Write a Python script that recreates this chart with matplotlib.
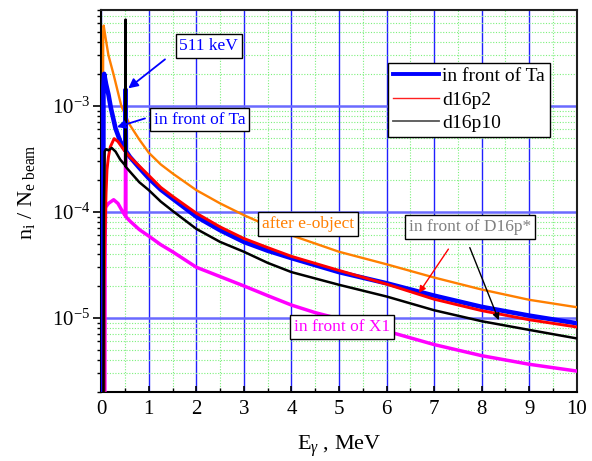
import matplotlib
matplotlib.use("Agg")
import matplotlib.pyplot as plt
from matplotlib.lines import Line2D
from matplotlib.ticker import LogLocator, MultipleLocator, NullFormatter, FixedLocator, FixedFormatter

plt.rcParams['font.family'] = ['Liberation Serif', 'DejaVu Serif']
plt.rcParams['mathtext.fontset'] = 'custom'
plt.rcParams['mathtext.rm'] = 'Liberation Serif'
plt.rcParams['mathtext.it'] = 'Liberation Serif:italic'

# ---------------- data ----------------
e_orange = [0.01, 0.04, 0.05, 0.1, 0.15, 0.26, 0.42, 0.6, 0.8, 1.0, 1.25, 1.5, 2, 2.5, 3, 3.5, 4, 5, 6, 7, 8, 9, 10]
y_orange = [1e-7, 5.0e-3, 5.7e-3, 4.1e-3, 3.0e-3, 1.96e-3, 1.0e-3, 6.6e-4, 4.8e-4, 3.6e-4, 2.8e-4, 2.3e-4,
            1.6e-4, 1.2e-4, 9.3e-5, 7.4e-5, 6.0e-5, 4.2e-5, 3.2e-5, 2.4e-5, 1.85e-5, 1.48e-5, 1.26e-5]

e_blue = [0.035, 0.045, 0.06, 0.1, 0.15, 0.2, 0.3, 0.4, 0.5, 0.505, 0.511, 0.517, 0.6, 0.8, 1.0, 1.25, 1.5,
          2, 2.5, 3, 3.5, 4, 5, 6, 7, 8, 9, 10]
y_blue = [1e-7, 1.5e-3, 2.0e-3, 1.6e-3, 1.28e-3, 9.6e-4, 6.1e-4, 4.6e-4, 3.85e-4, 3.8e-4, 1.42e-3, 3.75e-4,
          3.3e-4, 2.6e-4, 2.07e-4, 1.62e-4, 1.33e-4, 9.0e-5, 6.7e-5, 5.2e-5, 4.3e-5, 3.66e-5, 2.7e-5,
          2.12e-5, 1.62e-5, 1.27e-5, 1.05e-5, 8.9e-6]

e_red = [0.05, 0.06, 0.08, 0.1, 0.12, 0.15, 0.19, 0.27, 0.35, 0.5, 0.6, 0.8, 1.0, 1.25, 1.5, 2, 2.5, 3, 3.5,
         4, 5, 6, 7, 8, 9, 10]
y_red = [1e-7, 2e-5, 6.8e-5, 1.5e-4, 2.5e-4, 3.3e-4, 4.1e-4, 4.9e-4, 4.6e-4, 3.7e-4, 3.3e-4, 2.7e-4, 2.2e-4,
         1.7e-4, 1.4e-4, 9.7e-5, 7.2e-5, 5.6e-5, 4.6e-5, 3.8e-5, 2.8e-5, 2.08e-5, 1.5e-5, 1.17e-5, 9.6e-6, 8.2e-6]

e_black = [0.04, 0.055, 0.07, 0.1, 0.15, 0.22, 0.3, 0.4, 0.5, 0.505, 0.511, 0.517, 0.6, 0.8, 1.0, 1.25, 1.5,
           2, 2.5, 3, 3.5, 4, 5, 6, 7, 8, 9, 10]
y_black = [1e-7, 1.0e-4, 3.7e-4, 3.9e-4, 3.8e-4, 4.0e-4, 3.7e-4, 3.1e-4, 2.75e-4, 2.7e-4, 6.5e-3, 2.65e-4,
           2.4e-4, 1.9e-4, 1.6e-4, 1.25e-4, 1.02e-4, 6.9e-5, 5.2e-5, 4.2e-5, 3.3e-5, 2.7e-5, 2.05e-5,
           1.59e-5, 1.18e-5, 9.3e-6, 7.7e-6, 6.4e-6]

e_mag = [0.07, 0.08, 0.09, 0.15, 0.26, 0.35, 0.45, 0.505, 0.511, 0.517, 0.6, 0.8, 1.0, 1.25, 1.5, 2, 2.5, 3,
         3.5, 4, 4.5, 5, 6, 7, 8, 9, 10]
y_mag = [1e-7, 5e-5, 1.1e-4, 1.2e-4, 1.3e-4, 1.2e-4, 1.0e-4, 9.2e-5, 3.6e-4, 9.0e-5, 8.2e-5, 6.8e-5, 5.9e-5,
         4.9e-5, 4.2e-5, 3.0e-5, 2.45e-5, 2.0e-5, 1.62e-5, 1.32e-5, 1.12e-5, 9.8e-6, 7.5e-6, 5.6e-6,
         4.4e-6, 3.65e-6, 3.15e-6]

legend_labels = ["in front of Ta", "d16p2", "d16p10"]
x_ticks = list(range(0, 11))
y_ticks = [1e-5, 1e-4, 1e-3]
y_tick_labels = [r"$\mathregular{10^{-5}}$", r"$\mathregular{10^{-4}}$", r"$\mathregular{10^{-3}}$"]

# ---------------- figure ----------------
fig = plt.figure(figsize=(5.92, 4.61), dpi=100)
ax = fig.add_axes([0.1711, 0.1497, 0.8032, 0.8286])

ax.set_xscale('linear')
ax.set_yscale('log')
ax.set_xlim(0, 10)
ax.set_ylim(2e-6, 8e-3)

# grid
ax.set_axisbelow(True)
ax.xaxis.set_minor_locator(MultipleLocator(0.5))
ax.yaxis.set_minor_locator(LogLocator(base=10, subs=range(2, 10)))
ax.yaxis.set_minor_formatter(NullFormatter())
ax.grid(which='minor', color='#7cf07c', linestyle=(0, (1, 1.5)), linewidth=0.8)
ax.xaxis.grid(True, which='major', color='#2020ff', linewidth=1.0)
ax.yaxis.grid(True, which='major', color='#6a6aff', linewidth=1.8)

ax.plot(e_orange, y_orange, color='#ff7f00', lw=1.7, zorder=3)
ax.plot(e_mag, y_mag, color='#ff00ff', lw=2.5, zorder=3)
ax.plot(e_blue, y_blue, color='#0000ff', lw=3.3, zorder=4)
ax.plot(e_red, y_red, color='#ff0000', lw=2.1, zorder=5)
ax.plot(e_black, y_black, color='#000000', lw=1.8, zorder=6)

# ticks
ax.xaxis.set_major_locator(FixedLocator(x_ticks))
ax.yaxis.set_major_locator(FixedLocator(y_ticks))
ax.yaxis.set_major_formatter(FixedFormatter(y_tick_labels))
ax.tick_params(axis='x', which='major', direction='in', length=4, width=1.2, labelsize=15, pad=6)
ax.tick_params(axis='x', which='minor', direction='in', length=3, width=1.0)
ax.tick_params(axis='y', which='major', direction='out', length=6, width=1.2, labelsize=15, pad=2)
ax.tick_params(axis='y', which='minor', direction='out', length=3, width=1.0)
for s in ax.spines.values():
    s.set_linewidth(1.5)
    s.set_color('#202020')
ax.spines['left'].set_color('black')
ax.spines['bottom'].set_color('black')

ax.set_xlabel(r"E$_\gamma$ , MeV", fontsize=16, labelpad=10)
ax.set_ylabel(r"n$_\mathregular{i}$ / N$_\mathregular{e\ beam}$", fontsize=16)
ax.yaxis.set_label_coords(-0.135, 0.524)

# legend
handles = [Line2D([], [], color='#0000ff', lw=2.8),
           Line2D([], [], color='#ff2020', lw=1.0),
           Line2D([], [], color='#555555', lw=1.3)]
leg = ax.legend(handles, legend_labels, loc='upper left', bbox_to_anchor=(0.603, 0.862),
                fontsize=14, frameon=True, fancybox=False, framealpha=1, edgecolor='black',
                handlelength=2.35, handletextpad=0.2, borderpad=0.25, labelspacing=0.3,
                borderaxespad=0)
leg.get_frame().set_linewidth(1.0)
leg.set_zorder(10)

box = dict(boxstyle='square,pad=0.22', fc='white', ec='black', lw=1.0)
ax.text(2.26, 3.66e-3, "511 keV", color='#0000ff', fontsize=12.5, ha='center', va='center', bbox=box, zorder=9)
ax.text(2.065, 7.41e-4, "in front of Ta", color='#0000ff', fontsize=12.5, ha='center', va='center', bbox=box, zorder=9)
ax.text(4.34, 7.66e-5, "after e-object", color='#ff7f00', fontsize=12.5, ha='center', va='center', bbox=box, zorder=9)
ax.text(7.75, 7.2e-5, "in front of D16p*", color='#808080', fontsize=12.5, ha='center', va='center', bbox=box, zorder=9)
ax.text(5.06, 8.2e-6, "in front of X1", color='#ff00ff', fontsize=12.5, ha='center', va='center', bbox=box, zorder=9)

ax.annotate("", xy=(0.568, 1.46e-3), xytext=(1.34, 2.74e-3),
            arrowprops=dict(arrowstyle='-|>', color='#0000ff', lw=1.3, mutation_scale=14, shrinkA=0, shrinkB=0), zorder=9)
ax.annotate("", xy=(0.33, 6.3e-4), xytext=(0.919, 7.6e-4),
            arrowprops=dict(arrowstyle='-|>', color='#0000ff', lw=1.3, mutation_scale=12, shrinkA=0, shrinkB=0), zorder=9)
ax.annotate("", xy=(6.68, 1.72e-5), xytext=(7.30, 4.45e-5),
            arrowprops=dict(arrowstyle='-|>', color='#ff0000', lw=1.0, mutation_scale=10, shrinkA=0, shrinkB=0), zorder=9)
ax.annotate("", xy=(8.36, 9.5e-6), xytext=(7.75, 4.6e-5),
            arrowprops=dict(arrowstyle='-|>', color='#000000', lw=1.0, mutation_scale=10, shrinkA=0, shrinkB=0), zorder=9)

fig.savefig("out.png", dpi=100)
